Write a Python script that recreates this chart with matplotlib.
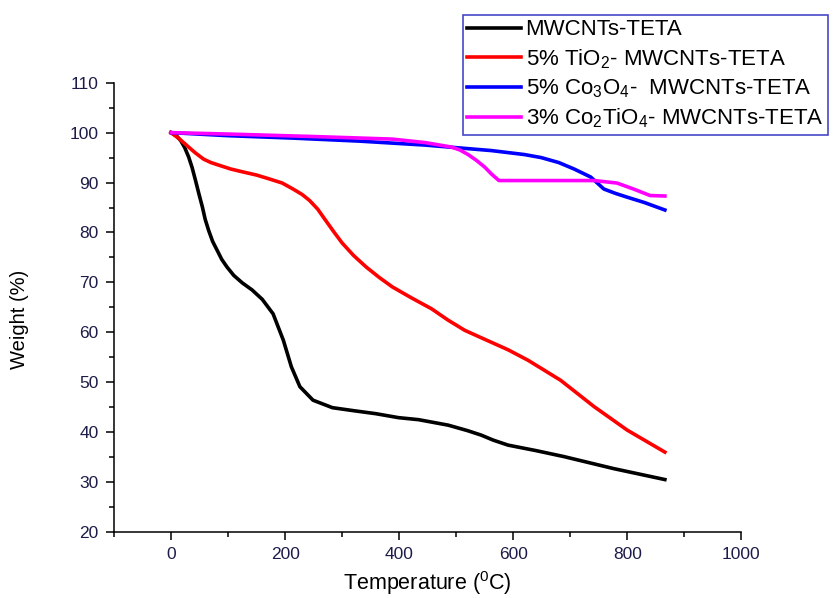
import matplotlib
matplotlib.use("Agg")
import matplotlib.pyplot as plt
from matplotlib.ticker import MultipleLocator

plt.rcParams['font.family'] = 'Liberation Sans'
plt.rcParams['mathtext.fontset'] = 'custom'
plt.rcParams['mathtext.rm'] = 'Liberation Sans'
plt.rcParams['mathtext.it'] = 'Liberation Sans:italic'

# TGA curves: temperature (C) vs weight (%)
black_T = [0, 10, 17, 24, 31, 37, 43, 49, 55, 60, 66, 73, 81, 89, 98, 110, 125,
           142, 160, 179, 197, 211, 226, 249, 283, 320, 359, 399, 434, 486, 520,
           544, 565, 591, 640, 689, 776, 866]
black_W = [100, 99.3, 98.4, 97.0, 95.1, 93.0, 90.4, 87.7, 85.1, 82.6, 80.4, 78.2,
           76.4, 74.6, 73.1, 71.4, 69.9, 68.5, 66.6, 63.7, 58.4, 53.1, 49.1, 46.4,
           44.9, 44.3, 43.7, 42.9, 42.5, 41.4, 40.3, 39.4, 38.4, 37.4, 36.3, 35.1,
           32.7, 30.5]

red_T = [0, 14, 28, 42, 57, 70, 86, 105, 127, 150, 173, 195, 214, 230, 243, 257,
         270, 285, 300, 320, 342, 365, 388, 420, 457, 485, 515, 550, 591, 626,
         683, 742, 800, 866]
red_W = [100, 98.8, 97.4, 96.0, 94.7, 94.0, 93.4, 92.7, 92.1, 91.5, 90.7, 89.9,
         88.7, 87.6, 86.4, 84.7, 82.6, 80.2, 77.9, 75.4, 73.1, 71.0, 69.1, 67.0,
         64.7, 62.5, 60.4, 58.6, 56.5, 54.4, 50.4, 45.1, 40.4, 36.0]

blue_T = [0, 98, 214, 330, 446, 562, 620, 649, 680, 707, 736, 759, 780, 799, 830,
          866]
blue_W = [100, 99.4, 98.9, 98.3, 97.5, 96.4, 95.6, 95.0, 94.0, 92.7, 91.1, 88.7,
          87.8, 87.1, 86.0, 84.5]

mag_T = [0, 104, 255, 388, 446, 492, 507, 521, 536, 550, 562, 575, 742, 782, 811,
         840, 866]
mag_W = [100, 99.7, 99.2, 98.7, 98.0, 97.1, 96.5, 95.6, 94.4, 93.1, 91.7, 90.4,
         90.4, 89.9, 88.7, 87.4, 87.3]

names = ['MWCNTs-TETA',
         '5% TiO$_2$- MWCNTs-TETA',
         '5% Co$_3$O$_4$-  MWCNTs-TETA',
         '3% Co$_2$TiO$_4$- MWCNTs-TETA']

fig = plt.figure(figsize=(8.4, 5.98), dpi=100)
ax = fig.add_axes([0.1357, 0.1104, 0.7468, 0.7513])

lw = 2.6
ax.plot(black_T, black_W, color='black', lw=lw, label=names[0])
ax.plot(red_T, red_W, color='#ff0000', lw=lw, label=names[1])
ax.plot(blue_T, blue_W, color='#0000ff', lw=lw, label=names[2])
ax.plot(mag_T, mag_W, color='#ff00ff', lw=lw, label=names[3])

ax.set_xlim(-100, 1000)
ax.set_ylim(20, 110)
ax.xaxis.set_major_locator(MultipleLocator(200))
ax.xaxis.set_minor_locator(MultipleLocator(100))
ax.yaxis.set_major_locator(MultipleLocator(10))
ax.yaxis.set_minor_locator(MultipleLocator(5))
ax.spines['top'].set_visible(False)
ax.spines['right'].set_visible(False)
for s in ['left', 'bottom']:
    ax.spines[s].set_linewidth(1.1)
ax.tick_params(which='major', direction='out', length=6, width=1.1,
               labelsize=12.5, labelcolor='#1c1c48', pad=5)
ax.tick_params(which='minor', direction='out', length=3.6, width=1.1)

ax.set_xlabel('Temperature ($^0$C)', fontsize=15.5, labelpad=5)
ax.set_ylabel('Weight (%)', fontsize=14.5)
ax.yaxis.set_label_coords(-0.136, 0.473)

leg = fig.legend(loc='upper left', bbox_to_anchor=(0.551, 0.975),
                 fontsize=16, frameon=True, fancybox=False, framealpha=1,
                 borderpad=0.2, borderaxespad=0, handlelength=2.4,
                 handletextpad=0.22, labelspacing=0.3)
leg.get_frame().set_edgecolor('#4848c8')
leg.get_frame().set_linewidth(1.2)

fig.savefig('out.png', dpi=100)
